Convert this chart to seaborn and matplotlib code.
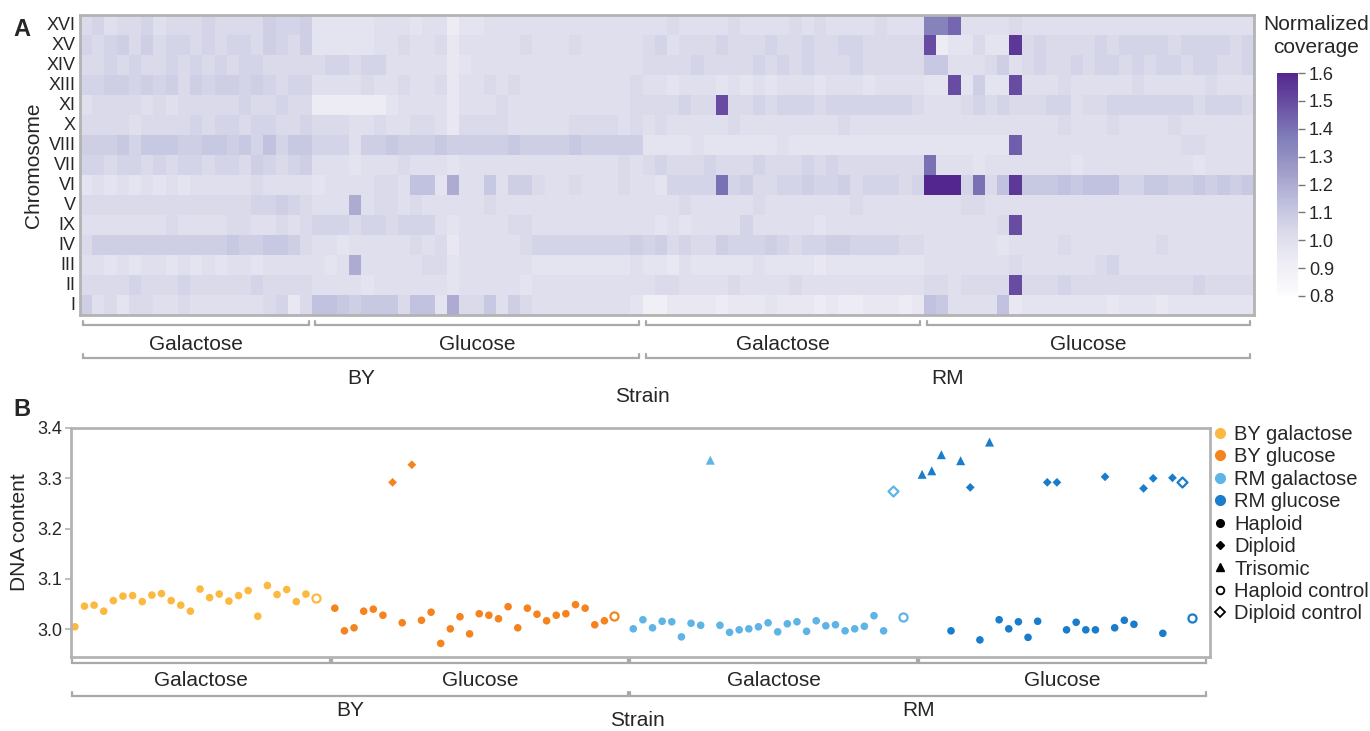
import numpy as np
import pandas as pd
import matplotlib
matplotlib.use('Agg')
import matplotlib.pyplot as plt
from matplotlib.colors import ListedColormap
from matplotlib.lines import Line2D
import seaborn as sns

sns.set_theme(style='white')
plt.rcParams['font.family'] = ['Liberation Sans', 'DejaVu Sans']

# ---------------- panel A data ----------------
chromosomes = ['XVI', 'XV', 'XIV', 'XIII', 'XI', 'X', 'VIII', 'VII', 'VI',
               'V', 'IX', 'IV', 'III', 'II', 'I']

# normalized coverage, one character per sample: value = 0.80 + 0.025 * int(char, 36)
cov_by_gal = [
    '9a8 99a 899 9a9 999 baa b',
    'a9a b9b 9aa 9a9 aa9 ba9 b',
    '99a 9a9 9a9 a9a 9aa 999 9',
    'aab bab ab9 bab bab a9a a',
    '899 998 989 999 9a9 9a9 9',
    '999 989 999 a9a a9a a99 a',
    'bbb cac ccb bcc bca dac c',
    'aa9 aa9 a9a a9a a9b a9a b',
    '787 878 787 888 889 888 8',
    '999 999 999 999 99a aba 9',
    '888 888 898 888 998 898 9',
    '9bb bbb bbb bbb cbb ccb 9',
    '887 878 878 787 887 888 8',
    '999 9a9 99a 999 99a 999 9',
    'b89 799 889 888 888 9a6 9',
]
cov_by_glu = [
    '777 778 887 885 778 888 888 888 888',
    '777 778 898 896 888 889 888 988 888',
    '9aa 9aa 888 886 788 888 888 888 888',
    '888 898 898 896 889 898 888 888 889',
    '555 555 788 886 888 988 888 888 889',
    '999 889 889 986 999 988 888 999 989',
    'aaa 8bb cbb bcb bbb bcb bbb cbb bbb',
    '888 788 898 887 888 888 888 888 898',
    '788 889 98d d7g 88c 8bb 988 988 898',
    '888 g89 989 888 889 888 888 888 888',
    'aaa 9aa 9aa a87 888 899 888 888 888',
    '887 888 889 896 888 889 aaa aaa aab',
    '878 g88 888 997 888 888 777 777 778',
    '888 878 888 887 888 887 888 888 888',
    'ddc bcc c9d d7g 99c 8b9 888 888 887',
]
cov_rm_gal = [
    '889 888 898 888 989 888 898 88',
    '9a8 999 a99 9a9 9a9 9aa 999 99',
    '999 9a9 999 a9a 9a9 99a 999 99',
    '887 888 787 878 887 888 788 88',
    '999 a99 s99 a9a aa9 aaa aaa a9',
    '898 888 898 888 888 898 888 88',
    '777 787 777 778 777 777 777 77',
    '9a9 99a 999 a99 9a9 a99 999 99',
    '87a aaa oab 99a aba ab9 aaa 9a',
    '888 988 888 988 888 889 888 88',
    '878 788 88a 888 887 888 888 88',
    'ab9 a99 baa aba 9aa bba aaa 99',
    '776 877 777 877 776 777 777 77',
    '899 888 898 888 988 888 888 88',
    '446 666 566 676 665 655 666 56',
]
cov_rm_glu = [
    'mmp 888 898 888 888 888 888 888 888',
    's57 797 7u9 a99 99a 9aa aa9 aaa a9a',
    'cc8 889 b89 a99 a9a a9a 9aa 9aa 99a',
    '77s 7b7 7s8 889 888 889 888 889 888',
    '888 9a9 a99 9aa 899 aaa aaa a9a aa9',
    '888 888 888 889 888 988 889 888 888',
    '777 777 7q8 888 888 888 888 998 888',
    'o88 878 888 888 788 888 888 878 888',
    'www ao9 duc ccd cdd daa ccb bcb cbc',
    '888 998 888 888 888 888 888 888 888',
    '888 888 9s8 888 888 888 888 888 888',
    '888 888 788 889 888 888 898 888 888',
    '888 888 898 888 889 a88 888 888 888',
    '998 999 9s9 99a 999 999 999 9a9 999',
    'dc8 888 d67 777 777 677 767 777 777',
]
cbar_ticks = [0.8, 0.9, 1.0, 1.1, 1.2, 1.3, 1.4, 1.5, 1.6]

# ---------------- panel B data ----------------
group_names = ['BY galactose', 'BY glucose', 'RM galactose', 'RM glucose']
group_colors = ['#fcb940', '#f5841f', '#5fb4e6', '#1a7dcc']

by_gal_dna = [3.005, 3.046, 3.048, 3.036, 3.057, 3.066, 3.067, 3.055, 3.068, 3.071,
              3.057, 3.048, 3.036, 3.080, 3.063, 3.070, 3.056, 3.067, 3.077, 3.026,
              3.087, 3.069, 3.079, 3.055, 3.070, 3.062]
by_gal_kind = ['H'] * 25 + ['HC']
by_glu_dna = [3.042, 2.997, 3.003, 3.036, 3.040, 3.028, 3.292, 3.013, 3.327, 3.018,
              3.034, 2.972, 3.001, 3.025, 2.991, 3.031, 3.028, 3.021, 3.045, 3.003,
              3.042, 3.030, 3.017, 3.028, 3.031, 3.049, 3.042, 3.009, 3.017, 3.026]
by_glu_kind = ['H', 'H', 'H', 'H', 'H', 'H', 'D', 'H', 'D', 'H',
               'H', 'H', 'H', 'H', 'H', 'H', 'H', 'H', 'H', 'H',
               'H', 'H', 'H', 'H', 'H', 'H', 'H', 'H', 'H', 'HC']
rm_gal_dna = [3.001, 3.019, 3.003, 3.016, 3.015, 2.985, 3.012, 3.008, 3.336, 3.008,
              2.994, 2.999, 3.001, 3.005, 3.013, 2.995, 3.011, 3.015, 2.996, 3.017,
              3.007, 3.009, 2.997, 3.001, 3.006, 3.027, 2.997, 3.275, 3.024]
rm_gal_kind = ['H', 'H', 'H', 'H', 'H', 'H', 'H', 'H', 'T', 'H',
               'H', 'H', 'H', 'H', 'H', 'H', 'H', 'H', 'H', 'H',
               'H', 'H', 'H', 'H', 'H', 'H', 'H', 'DC', 'HC']
rm_glu_dna = [3.308, 3.315, 3.347, 2.997, 3.335, 3.282, 2.979, 3.372, 3.019, 3.001,
              3.015, 2.984, 3.016, 3.292, 3.292, 2.999, 3.014, 2.999, 2.999, 3.303,
              3.003, 3.018, 3.010, 3.280, 3.300, 2.992, 3.301, 3.292, 3.022]
rm_glu_kind = ['T', 'T', 'T', 'H', 'T', 'D', 'H', 'T', 'H', 'H',
               'H', 'H', 'H', 'D', 'D', 'H', 'H', 'H', 'H', 'D',
               'H', 'H', 'H', 'D', 'D', 'H', 'D', 'DC', 'HC']
dna_ticks = [3.0, 3.1, 3.2, 3.3, 3.4]


def decode(rows):
    return np.array([[0.80 + 0.025 * int(ch, 36) for ch in r.replace(' ', '')] for r in rows])


W, H = 1370, 731
fig = plt.figure(figsize=(W / 100, H / 100), dpi=100)
GRAY = '#b3b3b3'
BR = '#a9a9a9'


def px_axes(x0, y0, x1, y1):
    return fig.add_axes([x0 / W, 1 - y1 / H, (x1 - x0) / W, (y1 - y0) / H])


def bracket(ax, x0, x1, y, h, label, ly, size=15):
    tr = ax.get_xaxis_transform()
    ax.plot([x0, x0, x1, x1], [y + h, y, y, y + h], transform=tr, color=BR, lw=1.6,
            clip_on=False, solid_joinstyle='miter')
    ax.text((x0 + x1) / 2, ly, label, transform=tr, ha='center', va='center', fontsize=size)


# ---------------- panel A ----------------
blocks = [decode(cov_by_gal), decode(cov_by_glu), decode(cov_rm_gal), decode(cov_rm_glu)]
cov = pd.DataFrame(np.hstack(blocks), index=chromosomes)
sizes = [b.shape[1] for b in blocks]
edges = np.concatenate([[0], np.cumsum(sizes)])

cmap = ListedColormap(plt.cm.Purples(np.linspace(0.0, 0.875, 256)))
ax_h = px_axes(80, 15, 1254, 315)
cax = px_axes(1277, 73, 1298, 296)
sns.heatmap(cov, ax=ax_h, cbar_ax=cax, cmap=cmap, vmin=0.8, vmax=1.6,
            xticklabels=False, yticklabels=True)
ax_h.set_xlabel('')
ax_h.set_ylabel('')
ax_h.tick_params(axis='y', length=0, pad=3, labelsize=13)
plt.setp(ax_h.get_yticklabels(), rotation=0)
for s in ax_h.spines.values():
    s.set_visible(True)
    s.set_color(GRAY)
    s.set_linewidth(2)

cbar = ax_h.collections[0].colorbar
cbar.set_ticks(cbar_ticks)
cbar.set_ticklabels([f'{t:.1f}' for t in cbar_ticks])
cbar.outline.set_visible(False)
cax.tick_params(labelsize=13, length=5, width=1, color='#777777', pad=3)
fig.text(1316 / W, 1 - 36 / H, 'Normalized\ncoverage', ha='center', va='center',
         fontsize=15, linespacing=1.25)

ah = 300.0
conds = ['Galactose', 'Glucose', 'Galactose', 'Glucose']
for i, c in enumerate(conds):
    bracket(ax_h, edges[i] + 0.25, edges[i + 1] - 0.3, -10 / ah, 4 / ah, c, -30 / ah)
bracket(ax_h, edges[0] + 0.25, edges[2] - 0.3, -43 / ah, 4 / ah, 'BY', -63 / ah)
bracket(ax_h, edges[2] + 0.25, edges[4] - 0.3, -43 / ah, 4 / ah, 'RM', -63 / ah)
ax_h.text(edges[2], -82 / ah, 'Strain', transform=ax_h.get_xaxis_transform(),
          ha='center', va='center', fontsize=15)
fig.text(33 / W, 1 - 165 / H, 'Chromosome', rotation=90, ha='center', va='center', fontsize=15)
fig.text(22 / W, 1 - 30 / H, 'A', ha='center', va='center', fontsize=17, fontweight='bold')

# ---------------- panel B ----------------
rows = []
start = 0
spans = []
for g, dna, kind in zip(group_names,
                        [by_gal_dna, by_glu_dna, rm_gal_dna, rm_glu_dna],
                        [by_gal_kind, by_glu_kind, rm_gal_kind, rm_glu_kind]):
    for j, (v, k) in enumerate(zip(dna, kind)):
        rows.append({'group': g, 'pos': start + j, 'dna': v, 'kind': k})
    spans.append((start, start + len(dna) - 1))
    start += len(dna) + 1
pts = pd.DataFrame(rows)
palette = dict(zip(group_names, group_colors))

ax_s = px_axes(71, 428, 1210, 657)
filled = pts[pts['kind'].isin(['H', 'D', 'T'])]
sns.scatterplot(data=filled, x='pos', y='dna', hue='group', palette=palette,
                style='kind', markers={'H': 'o', 'D': 'D', 'T': '^'},
                size='kind', sizes={'H': 30, 'D': 20, 'T': 42},
                linewidth=0, legend=False, ax=ax_s)
ctrl_marker = {'HC': ('o', 34), 'DC': ('D', 26)}
for _, r in pts[pts['kind'].isin(['HC', 'DC'])].iterrows():
    m, s = ctrl_marker[r['kind']]
    ax_s.scatter(r['pos'], r['dna'], marker=m, s=s, facecolors='white',
                 edgecolors=palette[r['group']], linewidths=1.6, zorder=3)

ax_s.set_xlim(spans[0][0] - 0.4, spans[-1][1] + 1.9)
ax_s.set_ylim(2.945, 3.398)
ax_s.set_yticks(dna_ticks)
ax_s.set_yticklabels([f'{t:.1f}' for t in dna_ticks])
ax_s.set_xticks([])
ax_s.set_xlabel('')
ax_s.set_ylabel('')
ax_s.tick_params(axis='y', left=True, length=4, width=1.2, color=GRAY, labelsize=13, pad=2)
for s in ax_s.spines.values():
    s.set_visible(True)
    s.set_color(GRAY)
    s.set_linewidth(2)

sh = 229.0
lo = [spans[0][0] - 0.3] + [sp[0] - 0.3 for sp in spans[1:]]
hi = [sp[1] + 1.5 for sp in spans]
for i, c in enumerate(conds):
    bracket(ax_s, lo[i], hi[i], -6 / sh, 4 / sh, c, -23 / sh)
bracket(ax_s, lo[0], hi[1], -39 / sh, 4 / sh, 'BY', -54 / sh)
bracket(ax_s, lo[2], hi[3], -39 / sh, 4 / sh, 'RM', -54 / sh)
ax_s.text((hi[1] + lo[2]) / 2 + 0.8, -63 / sh, 'Strain', transform=ax_s.get_xaxis_transform(),
          ha='center', va='center', fontsize=15)
fig.text(20 / W, 1 - 532 / H, 'DNA content', rotation=90, ha='center', va='center', fontsize=15)
fig.text(22 / W, 1 - 410 / H, 'B', ha='center', va='center', fontsize=17, fontweight='bold')

handles = [Line2D([], [], marker='o', ls='', color=c, markersize=7) for c in group_colors]
handles += [
    Line2D([], [], marker='o', ls='', color='black', markersize=5.5),
    Line2D([], [], marker='D', ls='', color='black', markersize=4.2),
    Line2D([], [], marker='^', ls='', color='black', markersize=6),
    Line2D([], [], marker='o', ls='', markerfacecolor='white', markeredgecolor='black',
           markeredgewidth=1.3, markersize=5.5),
    Line2D([], [], marker='D', ls='', markerfacecolor='white', markeredgecolor='black',
           markeredgewidth=1.3, markersize=4.8),
]
labels = group_names + ['Haploid', 'Diploid', 'Trisomic', 'Haploid control', 'Diploid control']
fig.legend(handles, labels, loc='upper left', bbox_to_anchor=(1213 / W, 1 - 425 / H),
           frameon=False, fontsize=14.5, handlelength=0.7, handletextpad=0.35,
           labelspacing=0.17, borderpad=0, borderaxespad=0)

fig.savefig('out.png', dpi=100)
